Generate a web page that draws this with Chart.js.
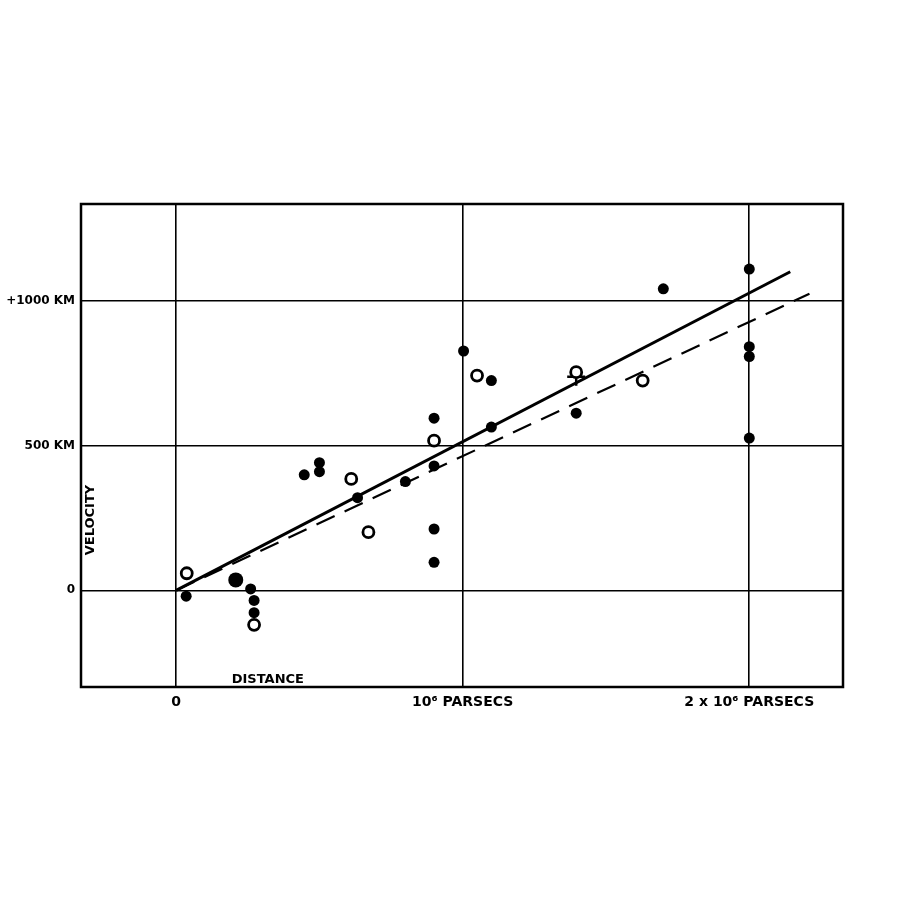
<!DOCTYPE html>
<html>
<head>
<meta charset="utf-8">
<script src="https://cdn.jsdelivr.net/npm/chart.js@4"></script>
<style>
  body { margin: 0; background: #fff; }
  #chart { display: block; }
</style>
</head>
<body>
<canvas id="chart" width="900" height="900"></canvas>
<script>
// distance in units of 10^6 parsecs, velocity in km/s
const filledX = [0.035, 0.26, 0.272, 0.272, 0.447, 0.50, 0.50, 0.633, 0.80, 0.90, 0.90, 0.90, 0.90, 1.003, 1.10, 1.10, 1.396, 1.70, 2.00, 2.00, 2.00, 2.00];
const filledY = [-20, 5, -35, -77, 399, 441, 410, 320, 376, 430, 212, 97, 595, 827, 725, 564, 612, 1042, 1110, 842, 808, 526];
const bigX = [0.208];
const bigY = [36];
const openX = [0.037, 0.272, 0.611, 0.671, 0.90, 1.05, 1.396, 1.628];
const openY = [59, -119, 385, 201, 517, 742, 754, 725];
const crossX = [1.396];
const crossY = [738];
const solidLineX = [0, 2.143];
const solidLineY = [0, 1101];
const dashLineX = [0, 2.21];
const dashLineY = [0, 1025];

const xTicks = [0, 1, 2];
const xTickLabels = ['0', '10\u2076 PARSECS', '2 x 10\u2076 PARSECS'];
const yTicks = [0, 500, 1000];
const yTickLabels = ['0', '500 KM', '+1000 KM'];

const pts = (xs, ys) => xs.map((x, i) => ({ x: x, y: ys[i] }));

// frame round the plot and the two labels inside it
const extras = {
  id: 'extras',
  beforeDatasetsDraw(chart) {
    const ctx = chart.ctx;
    const a = chart.chartArea;
    ctx.save();
    ctx.strokeStyle = '#000';
    ctx.lineWidth = 2.5;
    ctx.strokeRect(a.left, a.top, a.right - a.left, a.bottom - a.top);
    ctx.restore();
  },
  afterDraw(chart) {
    const ctx = chart.ctx;
    const sx = chart.scales.x, sy = chart.scales.y;
    ctx.save();
    ctx.fillStyle = '#000';
    ctx.font = 'bold 13px "DejaVu Sans"';
    ctx.textAlign = 'center';
    ctx.textBaseline = 'middle';
    ctx.fillText('DISTANCE', sx.getPixelForValue(0.32), sy.getPixelForValue(-307));
    ctx.translate(sx.getPixelForValue(-0.297), sy.getPixelForValue(243));
    ctx.rotate(-Math.PI / 2);
    ctx.fillText('VELOCITY', 0, 0);
    ctx.restore();
  }
};

const ctx = document.getElementById('chart');
const chart = new Chart(ctx, {
  type: 'scatter',
  data: {
    datasets: [
      {
        type: 'line',
        data: pts(solidLineX, solidLineY),
        borderColor: '#000',
        borderWidth: 3,
        pointRadius: 0,
        fill: false
      },
      {
        type: 'line',
        data: pts(dashLineX, dashLineY),
        borderColor: '#000',
        borderWidth: 2.2,
        borderDash: [20, 11],
        pointRadius: 0,
        fill: false
      },
      {
        data: pts(filledX, filledY),
        pointRadius: 5.5,
        backgroundColor: '#000',
        borderColor: '#000',
        borderWidth: 0
      },
      {
        data: pts(bigX, bigY),
        pointRadius: 7.5,
        backgroundColor: '#000',
        borderColor: '#000',
        borderWidth: 0
      },
      {
        data: pts(openX, openY),
        pointRadius: 5.5,
        backgroundColor: '#fff',
        borderColor: '#000',
        borderWidth: 2.8
      },
      {
        data: pts(crossX, crossY),
        pointStyle: 'cross',
        pointRadius: 9,
        borderColor: '#000',
        borderWidth: 2.5
      }
    ]
  },
  options: {
    responsive: false,
    animation: false,
    layout: { padding: { left: 0, top: 204, right: 57, bottom: 0 } },
    plugins: {
      legend: { display: false },
      tooltip: { enabled: false }
    },
    scales: {
      x: {
        type: 'linear',
        min: -0.332,
        max: 2.327,
        afterBuildTicks: s => { s.ticks = xTicks.map(v => ({ value: v })); },
        afterFit: s => { s.height = 213; },
        grid: { color: '#000', lineWidth: 1.6, drawTicks: false },
        border: { display: false },
        ticks: {
          color: '#000',
          padding: 7,
          maxRotation: 0,
          autoSkip: false,
          font: { family: 'DejaVu Sans', weight: 'bold', size: 14 },
          callback: v => xTickLabels[xTicks.indexOf(v)]
        }
      },
      y: {
        type: 'linear',
        min: -334,
        max: 1335,
        afterBuildTicks: s => { s.ticks = yTicks.map(v => ({ value: v })); },
        afterFit: s => { s.width = 81; },
        grid: { color: '#000', lineWidth: 1.6, drawTicks: false },
        border: { display: false },
        ticks: {
          color: '#000',
          padding: 6,
          autoSkip: false,
          font: { family: 'DejaVu Sans', weight: 'bold', size: 12 },
          callback: v => yTickLabels[yTicks.indexOf(v)]
        }
      }
    }
  },
  plugins: [extras]
});
</script>
</body>
</html>
